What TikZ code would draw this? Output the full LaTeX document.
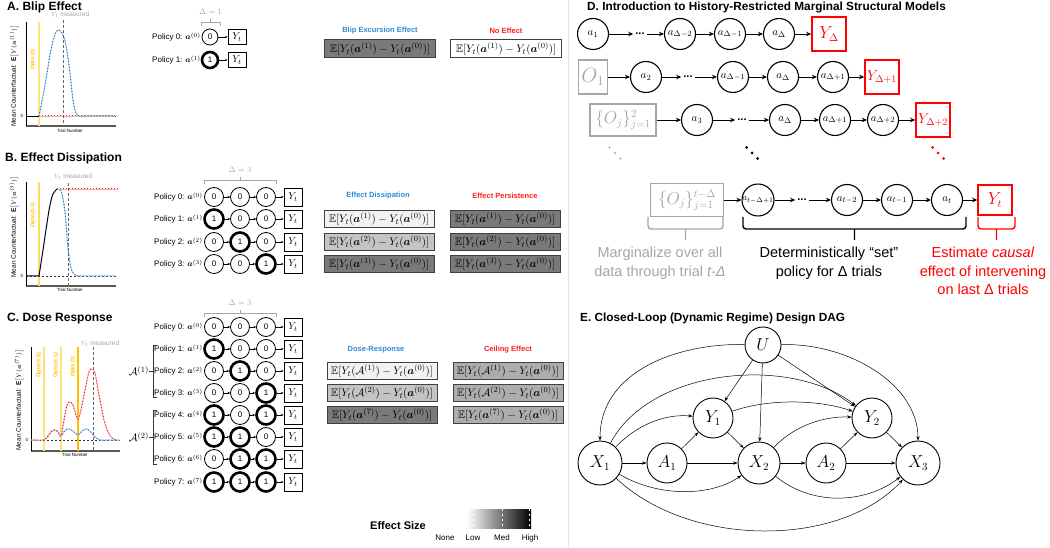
\documentclass[tikz,border=0pt]{standalone}
\usepackage{amsmath,amssymb}
\usepackage{fontspec}
\setmainfont{Liberation Sans}
\usetikzlibrary{arrows.meta,calc}

\definecolor{blueT}{HTML}{2E8BD8}
\definecolor{redT}{HTML}{FF1F1F}
\definecolor{optoY}{HTML}{FFC000}
\definecolor{optoL}{HTML}{FFE27A}
\definecolor{curveB}{HTML}{2F70C0}
\definecolor{curveBL}{HTML}{A8CBEC}
\definecolor{curveR}{HTML}{E82020}
\definecolor{curveRL}{HTML}{F7B0B0}
\definecolor{grayT}{HTML}{A6A6A6}
\definecolor{fillW}{HTML}{F2F2F2}
\definecolor{fillL}{HTML}{C4C4C4}
\definecolor{fillM}{HTML}{ADADAD}
\definecolor{fillD}{HTML}{7A7A7A}

\newcommand{\fs}[1]{\fontsize{#1}{#1}\selectfont}
\newcommand{\effA}[1]{$\mathbb{E}[Y_t(\boldsymbol{a}^{(#1)})-Y_t(\boldsymbol{a}^{(0)})]$}
\newcommand{\effS}[1]{$\mathbb{E}[Y_t(\mathcal{A}^{(#1)})-Y_t(\boldsymbol{a}^{(0)})]$}

% one policy row: prefix, y, policy number, three treatment bits
\newcommand{\prow}[6]{%
  \node[plab] (#1l) at (203,#2) {Policy #3: $\boldsymbol{a}^{(#3)}$};
  \node[pol#4] (#1c1) at (214,#2) {#4};
  \node[pol#5] (#1c2) at (240,#2) {#5};
  \node[pol#6] (#1c3) at (266,#2) {#6};
  \node[ybox] (#1y) at (293,#2) {$Y_t$};
  \draw[parr] (#1c1) -- (#1c2);
  \draw[parr] (#1c2) -- (#1c3);
  \draw[parr] (#1c3) -- (#1y);
}
% bracket over the treatment window, with its length
\newcommand{\dbrace}[4]{%
  \draw[grayT, line width=0.9pt] (#1,#3+4) -- (#1,#3) -- (#2,#3) -- (#2,#3+4)
     ({(#1+#2)/2},#3) -- ({(#1+#2)/2},#3-3);
  \node[grayT, font=\fs{8}] at ({(#1+#2)/2},#3-10) {$\Delta = #4$};
}
% bracket grouping policies into a set
\newcommand{\setbracket}[3]{%
  \draw[black!80, line width=0.7pt] (157,#1) -- (153,#1) -- (153,#2) -- (157,#2)
     (153,{(#1+#2)/2}) -- (149,{(#1+#2)/2});
  \node[font=\fs{11}] at (139,{(#1+#2)/2}) {$\mathcal{A}^{(#3)}$};
}
% three diagonal dots: centre x, centre y, dot radius
\newcommand{\diagdots}[3]{%
  \fill (#1-5.5,#2-5.5) circle[radius=#3] (#1,#2) circle[radius=#3] (#1+5.5,#2+5.5) circle[radius=#3];
}

\begin{document}
\begin{tikzpicture}[x=1pt,y=-1pt,
  title/.style={anchor=west, font=\fs{12}\bfseries, inner sep=0pt},
  titleS/.style={anchor=west, font=\fs{11.8}\bfseries, inner sep=0pt},
  plab/.style={anchor=east, font=\fs{8}, inner sep=0pt},
  pol0/.style={circle, draw, line width=0.8pt, minimum size=19pt, inner sep=0pt, font=\fs{8}},
  pol1/.style={pol0, line width=2.6pt},
  polA0/.style={pol0, minimum size=16pt},
  polA1/.style={polA0, line width=2.6pt},
  ybox/.style={draw, line width=0.9pt, minimum width=18pt, minimum height=18pt, inner sep=0pt, font=\fs{10}},
  yboxA/.style={ybox, minimum height=15pt},
  parr/.style={-{Stealth[length=2.6pt,width=2.4pt]}, line width=0.6pt},
  fbox/.style={draw=black!75, line width=1pt, minimum width=110pt, minimum height=17pt, inner sep=0pt, font=\fs{11}},
  elab/.style={font=\fs{7.5}\bfseries},
  axis/.style={black, line width=0.8pt},
  xaxis/.style={black!65, line width=1.4pt},
  zero/.style={black!80, dashed, line width=0.5pt, dash pattern=on 2pt off 2pt},
  meas/.style={black!60, dashed, line width=0.6pt, dash pattern=on 3pt off 2pt},
  bcurve/.style={curveB, dotted, line width=1pt, preaction={draw=curveBL, solid, line width=0.9pt}},
  rcurve/.style={curveR, dotted, line width=1pt, preaction={draw=curveRL, solid, line width=0.9pt}},
  ylab/.style={rotate=90, font=\fs{6.5}},
  opto/.style={rotate=90, text=optoY, font=\fs{5.5}\bfseries},
  tiny/.style={font=\fs{4.5}},
  measlab/.style={text=grayT, font=\fs{6.5}},
  dc/.style={circle, draw, line width=1.1pt, minimum size=31pt, inner sep=0pt, font=\fs{11}},
  gbox/.style={draw=grayT, text=grayT, line width=1.6pt, inner sep=0pt, minimum height=33pt},
  rbox/.style={draw=red, text=red, line width=1.6pt, inner sep=0pt, minimum width=34pt, minimum height=34pt, font=\fs{14}},
  ddots/.style={font=\fs{11}\bfseries, inner sep=2pt},
  darr/.style={-{Stealth[length=5pt,width=4.5pt]}, line width=0.9pt},
  dbr/.style={line width=1.4pt, rounded corners=3pt},
  dtext/.style={font=\fs{14.5}, align=center, anchor=north, inner sep=0pt},
  ec/.style={circle, draw, line width=0.9pt, inner sep=0pt, font=\fs{16}},
  earr/.style={-{Stealth[length=4.5pt,width=3.2pt]}, line width=0.5pt}
]
\fill[white] (0,0) rectangle (1050,548);
\useasboundingbox (0,0) rectangle (1050,548);

% divider between the left and right halves
\draw[black!10, line width=0.8pt] (568,0) -- (568,548);

% ================= A. Blip Effect =================
\node[title] (tA) at (7,7) {A. Blip Effect};
\draw[xaxis] (26,126) -- (116,126);
\draw[axis] (26,22) -- (26,126);
\draw[optoL, line width=2pt] (39,22) -- (39,126);
\draw[zero] (26,116) -- (116,116);
\draw[black, line width=0.9pt] (26,116) -- (39,116);
\draw[rcurve] (39,116) -- (115,116);
\draw[bcurve] plot[smooth, tension=0.55] coordinates {(39,116) (43,96) (47,73) (50,55) (53,41) (56,32) (59,30) (62,33) (65,41) (68,58) (70,73) (73,100) (76,113) (79,116) (83,116)} -- (115,116);
\draw[meas] (63,20) -- (63,126);
\node[measlab] at (70,15) {$Y_t$ measured};
\node[opto] at (33,60) {Opto (t)};
\node[tiny] at (22,116) {0};
\node[ylab] at (14,76) {Mean Counterfactual: $\mathbf{E}\big[Y(\boldsymbol{a}^{(1)})\big]$};
\node[tiny] at (70,131) {Trial Number};

\dbrace{201}{220}{22}{1}
\node[plab] (a0l) at (201,37) {Policy 0: $\boldsymbol{a}^{(0)}$};
\node[polA0] (a0c) at (210,37) {0};
\node[yboxA] (a0y) at (237,37) {$Y_t$};
\draw[parr] (a0c) -- (a0y);
\node[plab] (a1l) at (201,60) {Policy 1: $\boldsymbol{a}^{(1)}$};
\node[polA1] (a1c) at (210,60) {1};
\node[yboxA] (a1y) at (237,60) {$Y_t$};
\draw[parr] (a1c) -- (a1y);

\node[elab, text=blueT] (hA1) at (380,31) {Blip Excursion Effect};
\node[elab, text=redT] (hA2) at (506,31) {No Effect};
\node[fbox, fill=fillD, minimum width=111pt, minimum height=18pt] (fA1) at (380,49) {\effA{1}};
\node[fbox, fill=white, minimum width=111pt, minimum height=18pt] (fA2) at (506,49) {\effA{1}};

% ================= B. Effect Dissipation =================
\node[title] (tB) at (5,158) {B. Effect Dissipation};
\draw[xaxis] (26,286) -- (116,286);
\draw[axis] (26,182) -- (26,286);
\draw[optoL!80!optoY, line width=2pt] (39,182) -- (39,286);
\draw[zero] (26,276) -- (116,276);
\draw[rcurve] (57,189) -- (118,189);
\draw[bcurve] plot[smooth, tension=0.55] coordinates {(57,189) (60,190) (62,194) (65,212) (68,248) (71,268) (75,275) (80,276)} -- (115,276);
\draw[black!85!blue, line width=1pt] (26,276) -- (39,276) plot[smooth, tension=0.55] coordinates {(39,276) (43,250) (47,223) (50,205) (53,194) (57,189)};
\draw[meas] (68,183) -- (68,286);
\node[measlab] at (73,177) {$Y_t$ measured};
\node[opto] at (33,215) {Opto (t-1)};
\node[tiny] at (22,276) {0};
\node[ylab] at (14,227) {Mean Counterfactual: $\mathbf{E}\big[Y(\boldsymbol{a}^{(3)})\big]$};
\node[tiny] at (70,290) {Trial Number};

\dbrace{204}{276}{180}{3}
\prow{b0}{197}{0}{0}{0}{0}
\prow{b1}{219}{1}{1}{0}{0}
\prow{b2}{242}{2}{0}{1}{0}
\prow{b3}{264}{3}{0}{0}{1}

\node[elab, text=blueT] (hB1) at (378,196) {Effect Dissipation};
\node[elab, text=redT] (hB2) at (505,196) {Effect Persistence};
\node[fbox, fill=fillW] (fB11) at (379,219) {\effA{1}};
\node[fbox, fill=fillL] (fB12) at (379,242) {\effA{2}};
\node[fbox, fill=fillD] (fB13) at (379,264) {\effA{3}};
\node[fbox, fill=fillD] (fB21) at (505,219) {\effA{1}};
\node[fbox, fill=fillD] (fB22) at (505,242) {\effA{2}};
\node[fbox, fill=fillD] (fB23) at (505,264) {\effA{3}};

% ================= C. Dose Response =================
\node[title] (tC) at (7,319) {C. Dose Response};
\draw[xaxis] (31,451) -- (120,451);
\draw[axis] (31,347) -- (31,451);
\draw[optoL, line width=2pt] (44,347) -- (44,451);
\draw[optoL, line width=2pt] (61,347) -- (61,451);
\draw[optoY, line width=1.6pt] (78,347) -- (78,451);
\draw[zero] (31,440) -- (120,440);
\draw[bcurve] plot[smooth, tension=0.55] coordinates {(31,440) (44,440) (48,436) (52,431) (55,430) (58,432) (61,436) (64,432) (67,429) (70,429) (74,432) (78,435) (82,431) (86,429) (90,431) (95,437) (100,440) (104,440)} -- (120,440);
\draw[rcurve] plot[smooth, tension=0.55] coordinates {(31,440) (44,440) (48,436) (52,431) (55,430) (58,432) (61,436) (64,420) (67,405) (70,402) (73,405) (76,415) (78,419) (81,410) (85,390) (89,372) (92,369) (95,373) (98,390) (101,405) (104,420) (108,432) (112,438) (117,440)};
\draw[meas] (93,347) -- (93,451);
\node[measlab] at (100,344) {$Y_t$ measured};
\node[opto] at (39,365) {Opto (t-2)};
\node[opto] at (56,365) {Opto (t-1)};
\node[opto] at (73,367) {Opto (t)};
\node[tiny] at (27,440) {0};
\node[ylab] at (19,400) {Mean Counterfactual: $\mathbf{E}\big[Y(\boldsymbol{a}^{(7)})\big]$};
\node[tiny] at (75,455) {Trial Number};

\dbrace{204}{276}{313}{3}
\prow{c0}{327}{0}{0}{0}{0}
\prow{c1}{349}{1}{1}{0}{0}
\prow{c2}{371}{2}{0}{1}{0}
\prow{c3}{393}{3}{0}{0}{1}
\prow{c4}{415}{4}{1}{0}{1}
\prow{c5}{437}{5}{1}{1}{0}
\prow{c6}{459}{6}{0}{1}{1}
\prow{c7}{482}{7}{1}{1}{1}
\setbracket{345}{397}{1}
\setbracket{410}{464}{2}

\node[elab, text=blueT] (hC1) at (376,350) {Dose-Response};
\node[elab, text=redT] (hC2) at (508,350) {Ceiling Effect};
\node[fbox, fill=fillW] (fC11) at (382,371) {\effS{1}};
\node[fbox, fill=fillL] (fC12) at (382,393) {\effS{2}};
\node[fbox, fill=fillD] (fC13) at (382,415) {\effA{7}};
\node[fbox, fill=fillM] (fC21) at (508,371) {\effS{1}};
\node[fbox, fill=fillM] (fC22) at (508,393) {\effS{2}};
\node[fbox, fill=fillM] (fC23) at (508,415) {\effA{7}};

% effect size legend
\node[font=\fs{11}\bfseries] (leg) at (398,526) {Effect Size};
\shade[left color=white, right color=black] (467,509) rectangle (531,528);
\foreach \x in {473,502,529} \draw[white, line width=0.6pt, dash pattern=on 2pt off 3pt] (\x,509) -- (\x,528);
\node[font=\fs{8}] (lg0) at (445,538) {None};
\node[font=\fs{8}] (lg1) at (473,538) {Low};
\node[font=\fs{8}] (lg2) at (502,538) {Med};
\node[font=\fs{8}] (lg3) at (530,538) {High};

% ================= D. History-restricted MSMs =================
\node[titleS] (tD) at (587,7) {D. Introduction to History-Restricted Marginal Structural Models};

\node[dc] (r1a) at (593,34) {$a_1$};
\node[ddots] (r1d) at (640,34) {...};
\node[dc] (r1b) at (680,34) {$a_{\Delta-2}$};
\node[dc] (r1c) at (730,34) {$a_{\Delta-1}$};
\node[dc] (r1e) at (779,34) {$a_{\Delta}$};
\node[rbox, font=\fs{16}] (r1y) at (829,34) {$Y_{\Delta}$};
\draw[darr] (r1a) -- (r1d);
\draw[darr] (r1d) -- (r1b);
\draw[darr] (r1b) -- (r1c);
\draw[darr] (r1c) -- (r1e);
\draw[darr] (r1e) -- (r1y);

\node[gbox, minimum width=29pt, minimum height=34pt, font=\fs{20}] (r2o) at (593,77) {$O_1$};
\node[dc] (r2a) at (646,77) {$a_2$};
\node[ddots] (r2d) at (688,77) {...};
\node[dc] (r2b) at (733,77) {$a_{\Delta-1}$};
\node[dc] (r2c) at (783,77) {$a_{\Delta}$};
\node[dc] (r2e) at (833,77) {$a_{\Delta+1}$};
\node[rbox] (r2y) at (882,77) {$Y_{\Delta+1}$};
\draw[darr] (r2o) -- (r2a);
\draw[darr] (r2a) -- (r2d);
\draw[darr] (r2d) -- (r2b);
\draw[darr] (r2b) -- (r2c);
\draw[darr] (r2c) -- (r2e);
\draw[darr] (r2e) -- (r2y);

\node[gbox, minimum width=66pt, minimum height=32pt, font=\fs{16}] (r3o) at (623,120) {$\{O_j\}_{j=1}^{2}$};
\node[dc] (r3a) at (697,120) {$a_3$};
\node[ddots] (r3d) at (742,120) {...};
\node[dc] (r3b) at (785,120) {$a_{\Delta}$};
\node[dc] (r3c) at (835,120) {$a_{\Delta+1}$};
\node[dc] (r3e) at (883,120) {$a_{\Delta+2}$};
\node[rbox] (r3y) at (933,120) {$Y_{\Delta+2}$};
\draw[darr] (r3o) -- (r3a);
\draw[darr] (r3a) -- (r3d);
\draw[darr] (r3d) -- (r3b);
\draw[darr] (r3b) -- (r3c);
\draw[darr] (r3c) -- (r3e);
\draw[darr] (r3e) -- (r3y);

% continuation dots between the rows
\begin{scope}[grayT]\diagdots{615}{153}{1.1pt}\end{scope}
\begin{scope}[black]\diagdots{752}{153}{1.5pt}\end{scope}
\begin{scope}[red]\diagdots{938}{153}{1.5pt}\end{scope}

\node[gbox, minimum width=73pt, minimum height=33pt, font=\fs{16}] (r5o) at (687,200) {$\{O_j\}_{j=1}^{t-\Delta}$};
\node[dc, font=\fs{9.5}] (r5a) at (758,200) {$a_{t-\Delta+1}$};
\node[ddots] (r5d) at (802,200) {...};
\node[dc] (r5b) at (847,200) {$a_{t-2}$};
\node[dc] (r5c) at (897,200) {$a_{t-1}$};
\node[dc] (r5e) at (947,200) {$a_{t}$};
\node[rbox, minimum height=30pt, font=\fs{16}] (r5y) at (995,200) {$Y_t$};
\draw[darr] (r5o) -- (r5a);
\draw[darr] (r5a) -- (r5d);
\draw[darr] (r5d) -- (r5b);
\draw[darr] (r5b) -- (r5c);
\draw[darr] (r5c) -- (r5e);
\draw[darr] (r5e) -- (r5y);

\draw[dbr, grayT] (648,217) -- (648,229) -- (723,229) -- (723,217) (685.5,229) -- (685.5,240);
\draw[dbr, black] (743,217) -- (743,229) -- (966,229) -- (966,217) (854.5,229) -- (854.5,240);
\draw[dbr, red] (978,217) -- (978,229) -- (1015,229) -- (1015,217) (996.5,229) -- (996.5,240);

\node[dtext, text=grayT] (m1) at (660,247) {Marginalize over all\\[4pt]data through trial \textit{t-Δ}};
\node[dtext, text=black] (m2) at (829,247) {Deterministically “set”\\[4pt]policy for Δ trials};
\node[dtext, text=red] (m3) at (983,247) {Estimate \textit{causal}\\[4pt]effect of intervening\\[4pt]on last Δ trials};

% ================= E. Closed-loop DAG =================
\node[titleS] (tE) at (580,318) {E. Closed-Loop (Dynamic Regime) Design DAG};

\node[ec, minimum size=36pt] (U) at (763,345) {$U$};
\node[ec, minimum size=40pt] (Y1) at (713,418) {$Y_1$};
\node[ec, minimum size=40pt] (Y2) at (872,418) {$Y_2$};
\node[ec, minimum size=44pt] (X1) at (600,463) {$X_1$};
\node[ec, minimum size=40pt] (A1) at (667,463) {$A_1$};
\node[ec, minimum size=42pt] (X2) at (759,463) {$X_2$};
\node[ec, minimum size=40pt] (A2) at (826,463) {$A_2$};
\node[ec, minimum size=44pt] (X3) at (918,463) {$X_3$};

\draw[earr] (U) .. controls (680,343) and (600,370) .. (X1);
\draw[earr] (U) .. controls (850,343) and (918,385) .. (X3);
\draw[earr] (U) -- (Y1);
\draw[earr] (U) -- (X2);
\draw[earr] (U) -- (Y2);
\draw[earr] (X1) .. controls (650,368) and (790,355) .. (Y2);
\draw[earr] (X1) .. controls (640,422) and (668,414) .. (Y1);
\draw[earr] (X1) -- (A1);
\draw[earr] (X1) .. controls (660,498) and (712,496) .. (X2);
\draw[earr] (X1) .. controls (690,548) and (840,548) .. (X3);
\draw[earr] (A1) -- (Y1);
\draw[earr] (A1) -- (X2);
\draw[earr] (Y1) .. controls (770,398) and (820,400) .. (Y2);
\draw[earr] (Y1) -- (X2);
\draw[earr] (X2) .. controls (795,425) and (825,416) .. (Y2);
\draw[earr] (X2) -- (A2);
\draw[earr] (X2) .. controls (815,508) and (868,502) .. (X3);
\draw[earr] (A2) -- (Y2);
\draw[earr] (A2) -- (X3);
\draw[earr] (Y2) -- (X3);
\end{tikzpicture}
\end{document}
